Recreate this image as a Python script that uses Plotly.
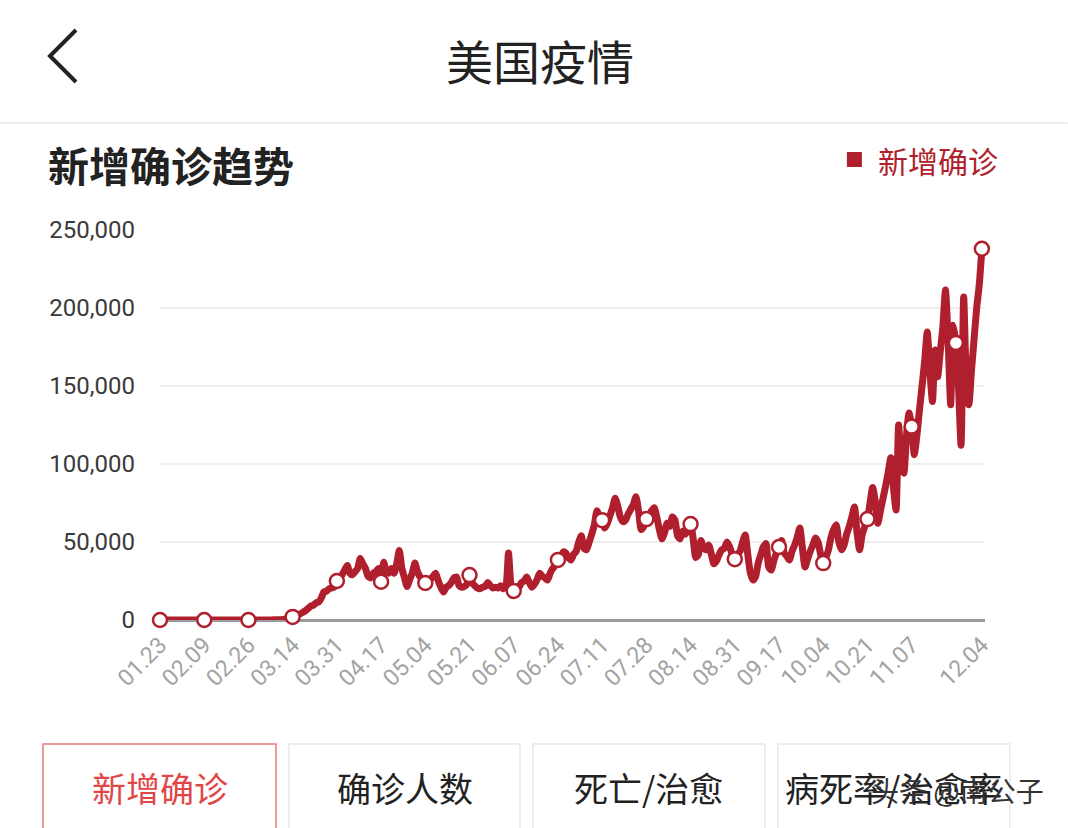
import plotly.graph_objects as go
import pandas as pd

# ---------------- data ----------------
start_date = "2020-01-23"
end_date = "2020-12-04"

cases_jan = [0, 1, 0, 3, 0, 0, 0, 1, 1]
cases_feb = [1, 2, 0, 0, 0, 0, 0, 0, 1, 0, 0, 1, 1, 0, 0, 0, 0, 0, 0, 0,
             0, 1, 0, 0, 0, 1, 0, 2, 8]
cases_mar = [8, 23, 20, 31, 70, 68, 105, 110, 180, 290, 450, 700, 1200, 2000,
             2800, 3200, 4000, 5000, 6000, 7500, 9000, 9500, 11000, 11500, 14000,
             18000, 18500, 20000, 20500, 21000, 25000]
cases_apr = [27000, 29000, 32000, 35000, 30000, 29000, 31000, 33000, 39500, 36000,
             33000, 28000, 27000, 30000, 31000, 33000, 24500, 37000, 31000, 30000,
             33000, 30000, 36000, 44500, 33000, 27000, 21500, 26000, 30000, 36500]
cases_may = [31000, 27600, 26000, 23700, 24000, 26000, 28000, 30000, 25000, 21000,
             18000, 21000, 22000, 24000, 27000, 27600, 22000, 21000, 21500, 23000,
             28800, 24000, 22000, 20500, 20000, 21000, 21500, 24000, 22000, 20500,
             21000]
cases_jun = [20500, 22000, 20000, 22000, 43000, 22000, 18600, 19500, 21000, 24000,
             25000, 27600, 24000, 21000, 23000, 26000, 30000, 28000, 27000, 25600,
             30000, 33000, 35000, 38500, 40000, 43600, 43000, 40000, 38500, 42000]
cases_jul = [44000, 50000, 54000, 46000, 45000, 50000, 55000, 61000, 70000, 66000,
             64000, 59000, 62000, 67000, 72000, 78000, 73000, 66000, 63000, 64000,
             68000, 71000, 74000, 79000, 70000, 58000, 60000, 64700, 67000, 70000,
             72000]
cases_aug = [66000, 58000, 52000, 56000, 62000, 60000, 66000, 64000, 54000, 52000,
             57000, 55000, 58000, 61500, 52000, 40000, 42000, 51000, 46000, 45000,
             48000, 42000, 36000, 38000, 42000, 45000, 46000, 50000, 47000, 42000,
             39000]
cases_sep = [42000, 44000, 50000, 54500, 42000, 30000, 25600, 28000, 36500, 42000,
             47000, 49000, 34000, 32000, 38000, 43000, 46800, 51000, 43000, 41000,
             38500, 44000, 48000, 53000, 59000, 46000, 34000, 39000, 44000, 48000]
cases_oct = [52600, 50000, 42000, 36500, 40000, 45000, 53000, 58000, 61000, 50000,
             45000, 48000, 55000, 60000, 66000, 72500, 56000, 45000, 55000, 60000,
             64700, 75000, 85000, 76000, 62000, 70000, 78000, 86000, 95000, 104000,
             85000]
cases_nov = [70500, 125000, 100000, 94000, 118000, 132700, 124000, 106000, 118000, 134600,
             150000, 166000, 184600, 160000, 140000, 173000, 156000, 172000, 188000, 211500,
             180000, 138000, 189000, 177600, 150000, 112000, 207000, 155000, 138000, 160000]
cases_dec = [180000, 200000, 215000, 238000]

new_cases = (cases_jan + cases_feb + cases_mar + cases_apr + cases_may + cases_jun +
             cases_jul + cases_aug + cases_sep + cases_oct + cases_nov + cases_dec)

tick_dates = ["2020-01-23", "2020-02-09", "2020-02-26", "2020-03-14", "2020-03-31",
              "2020-04-17", "2020-05-04", "2020-05-21", "2020-06-07", "2020-06-24",
              "2020-07-11", "2020-07-28", "2020-08-14", "2020-08-31", "2020-09-17",
              "2020-10-04", "2020-10-21", "2020-11-07", "2020-12-04"]
tick_labels = ["01.23", "02.09", "02.26", "03.14", "03.31", "04.17", "05.04",
               "05.21", "06.07", "06.24", "07.11", "07.28", "08.14", "08.31",
               "09.17", "10.04", "10.21", "11.07", "12.04"]
marker_dates = tick_dates[:-1] + ["2020-11-24", "2020-12-04"]

y_ticks = [0, 50000, 100000, 150000, 200000, 250000]

# ---------------- build ----------------
dates = pd.date_range(start_date, end_date, freq="D")
series = pd.Series(new_cases, index=dates)
mk = pd.to_datetime(marker_dates)

RED = "#b01f2d"
W, H = 1068, 828
L, R, T, B = 160, 982, 230, 620
PAD_DAYS = 1.2
day_px = (R - L) / (len(dates) - 1)
R_PLOT = R + PAD_DAYS * day_px


def px(x):
    return (x - L) / (R_PLOT - L)


def py(y):
    return (B - y) / (B - T)


fig = go.Figure()
fig.add_trace(go.Scatter(
    x=series.index, y=series.values, mode="lines",
    line=dict(color=RED, width=7, shape="spline", smoothing=0.6, simplify=False),
    hoverinfo="skip", showlegend=False, cliponaxis=False))
fig.add_trace(go.Scatter(
    x=mk, y=series.loc[mk].values, mode="markers",
    marker=dict(size=14, color="white", line=dict(color=RED, width=2.5)),
    showlegend=False, cliponaxis=False))

fig.update_layout(
    width=W, height=H, autosize=False,
    margin=dict(l=L, r=W - R_PLOT, t=T, b=H - B, pad=0),
    paper_bgcolor="white", plot_bgcolor="white",
    font=dict(family="Roboto, 'Noto Sans CJK SC', sans-serif"),
    showlegend=False,
)
fig.update_xaxes(
    type="date",
    range=[dates[0], dates[-1] + pd.Timedelta(hours=24 * PAD_DAYS)],
    tickmode="array", tickvals=pd.to_datetime(tick_dates), ticktext=tick_labels,
    tickangle=-45, tickfont=dict(family="Roboto", size=23, color="#a3a3a3"),
    showgrid=False, zeroline=False, showline=False, ticks="",
    ticklabelstandoff=6,
)
fig.update_yaxes(
    range=[0, 250000], tickmode="array", tickvals=y_ticks, tickformat=",d",
    tickfont=dict(family="Roboto", size=24, color="#3a3a3a"),
    showgrid=True, gridcolor="#efefef", gridwidth=2,
    zeroline=True, zerolinecolor="#9a9a9a", zerolinewidth=3,
    showline=False, ticks="", ticklabelstandoff=24,
)

CJK = "'Noto Sans CJK SC', sans-serif"
ann = []
ann.append(dict(text="美国疫情", x=px(540), y=py(59), xref="paper", yref="paper",
                xanchor="center", yanchor="middle", showarrow=False,
                font=dict(family=CJK, size=47, color="#222222")))
ann.append(dict(text="<b>新增确诊趋势</b>", x=px(46), y=py(164), xref="paper", yref="paper",
                xanchor="left", yanchor="middle", showarrow=False,
                font=dict(family=CJK, size=41, color="#222222")))
ann.append(dict(text="新增确诊", x=px(876), y=py(160), xref="paper", yref="paper",
                xanchor="left", yanchor="middle", showarrow=False,
                font=dict(family=CJK, size=30, color=RED)))
tabs = [("新增确诊", 160, "#e04848"), ("确诊人数", 405, "#222222"),
        ("死亡/治愈", 649, "#222222"), ("病死率/治愈率", 894, "#222222")]
for t, cx, c in tabs:
    ann.append(dict(text=t, x=px(cx), y=py(787), xref="paper", yref="paper",
                    xanchor="center", yanchor="middle", showarrow=False,
                    font=dict(family=CJK, size=34, color=c)))
ann.append(dict(text="头条 @南公子", x=px(958), y=py(790), xref="paper", yref="paper",
                xanchor="center", yanchor="middle", showarrow=False,
                font=dict(family=CJK, size=28, color="#333333")))
fig.update_layout(annotations=ann)

shapes = []
shapes.append(dict(type="path", xref="paper", yref="paper",
                   path=f"M {px(76)} {py(30)} L {px(50)} {py(56)} L {px(76)} {py(82)}",
                   line=dict(color="#222222", width=4)))
shapes.append(dict(type="line", xref="paper", yref="paper",
                   x0=px(0), x1=px(W), y0=py(123), y1=py(123),
                   line=dict(color="#e6e6e6", width=1.5)))
shapes.append(dict(type="rect", xref="paper", yref="paper",
                   x0=px(847), x1=px(862), y0=py(152), y1=py(167),
                   fillcolor=RED, line=dict(width=0)))
tab_boxes = [(43, 276, "#e87a7a"), (289, 520, "#e8e8e8"),
             (533, 765, "#e8e8e8"), (778, 1010, "#e8e8e8")]
for x0, x1, c in tab_boxes:
    shapes.append(dict(type="rect", xref="paper", yref="paper",
                       x0=px(x0), x1=px(x1), y0=py(744), y1=py(850),
                       fillcolor="rgba(0,0,0,0)", line=dict(color=c, width=1.5)))
fig.update_layout(shapes=shapes)

fig.write_html("out.html")
